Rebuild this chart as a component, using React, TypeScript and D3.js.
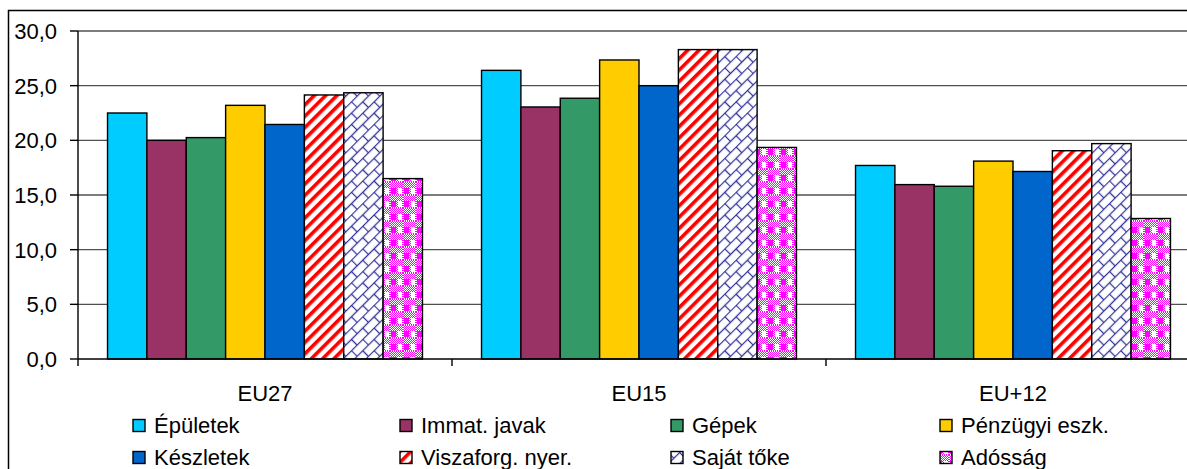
import React from 'react';
import * as d3 from 'd3';

const categories = ['EU27', 'EU15', 'EU+12'];
const seriesNames = ['Épületek', 'Immat. javak', 'Gépek', 'Pénzügyi eszk.', 'Készletek', 'Viszaforg. nyer.', 'Saját tőke', 'Adósság'];
const epuletek = [22.5, 26.4, 17.7];
const immat = [20.0, 23.05, 15.95];
const gepek = [20.25, 23.85, 15.8];
const penzugyi = [23.2, 27.35, 18.1];
const keszletek = [21.45, 25.0, 17.15];
const viszaforg = [24.15, 28.3, 19.05];
const sajat = [24.35, 28.3, 19.7];
const adossag = [16.5, 19.35, 12.85];
const yTicks = [0, 5, 10, 15, 20, 25, 30];

const seriesValues = [epuletek, immat, gepek, penzugyi, keszletek, viszaforg, sajat, adossag];
const fills = ['#00CCFF', '#993366', '#339966', '#FFCC00', '#0066CC', 'url(#pStripe)', 'url(#pBrick)', 'url(#pCheck)'];

const W = 1187;
const H = 469;
const plotLeft = 78;
const plotRight = 1200;
const plotTop = 31;
const plotBottom = 359;
const font = '"Liberation Sans", Arial, sans-serif';
const fs = 22;

const legendCols = [133, 400, 671, 940];
const legendRows = [433, 465];

export default function App() {
  const x0 = d3.scaleBand<string>().domain(categories).range([plotLeft, plotRight]).paddingInner(0).paddingOuter(0);
  const x1 = d3.scaleBand<string>().domain(seriesNames).range([0, x0.bandwidth()]).paddingInner(0).paddingOuter(0.75);
  const y = d3.scaleLinear().domain([0, 30]).range([plotBottom, plotTop]);
  const fmt = (v: number) => d3.format('.1f')(v).replace('.', ',');

  return (
    <svg width={W} height={H} style={{ position: 'absolute', left: 0, top: 0, display: 'block' }} fontFamily={font}>
      <defs>
        <pattern id="pStripe" width={8} height={8} patternUnits="userSpaceOnUse" patternTransform="rotate(45)">
          <rect width={8} height={8} fill="#fff" />
          <rect width={3.6} height={8} fill="#FF0000" />
        </pattern>
        <pattern id="pBrick" width={16} height={16} patternUnits="userSpaceOnUse" patternTransform="rotate(-45)">
          <rect width={16} height={16} fill="#fff" />
          <g stroke="#333399" strokeWidth={1.3} fill="none">
            <line x1={0} y1={0.5} x2={16} y2={0.5} />
            <line x1={0} y1={8.5} x2={16} y2={8.5} />
            <line x1={0.5} y1={0} x2={0.5} y2={8.5} />
            <line x1={8.5} y1={8.5} x2={8.5} y2={16} />
          </g>
        </pattern>
        <pattern id="pFine" width={2} height={2} patternUnits="userSpaceOnUse">
          <rect width={2} height={2} fill="#fff" />
          <rect width={1} height={1} fill="#FF00FF" />
          <rect x={1} y={1} width={1} height={1} fill="#FF00FF" />
        </pattern>
        <pattern id="pCheck" width={13} height={13} patternUnits="userSpaceOnUse">
          <rect width={13} height={13} fill="url(#pFine)" />
          <rect x={1} y={6} width={5} height={6} fill="#FF00FF" />
          <rect x={8} y={6} width={4} height={6} fill="#fff" />
        </pattern>
      </defs>
      <rect x={0} y={0} width={W} height={H} fill="#fff" />
      <rect x={8.5} y={10.5} width={1200} height={500} fill="none" stroke="#000" strokeWidth={1.5} />

      {yTicks.filter((t) => t > 0).map((t) => (
        <line key={'g' + t} x1={plotLeft} x2={plotRight} y1={y(t)} y2={y(t)} stroke="#505050" strokeWidth={1.4} />
      ))}

      {categories.map((c, ci) => (
        <g key={c}>
          {seriesNames.map((s, si) => {
            const v = seriesValues[si][ci];
            const bx = (x0(c) as number) + (x1(s) as number);
            return (
              <rect key={s} x={bx} y={y(v)} width={x1.bandwidth()} height={y(0) - y(v)} fill={fills[si]} stroke="#000" strokeWidth={1.4} />
            );
          })}
        </g>
      ))}

      <line x1={plotLeft} x2={plotLeft} y1={plotTop} y2={plotBottom} stroke="#000" strokeWidth={1.4} />
      <line x1={plotLeft} x2={plotRight} y1={plotBottom} y2={plotBottom} stroke="#000" strokeWidth={1.4} />
      {yTicks.map((t) => (
        <g key={'t' + t}>
          <line x1={plotLeft - 8} x2={plotLeft} y1={y(t)} y2={y(t)} stroke="#000" strokeWidth={1.4} />
          <text x={57} y={y(t) + 8} textAnchor="end" fontSize={fs} fill="#000">{fmt(t)}</text>
        </g>
      ))}
      {categories.map((c) => (
        <line key={'ct' + c} x1={x0(c) as number} x2={x0(c) as number} y1={plotBottom} y2={plotBottom + 7} stroke="#000" strokeWidth={1.4} />
      ))}
      {categories.map((c) => (
        <text key={'cl' + c} x={(x0(c) as number) + x0.bandwidth() / 2} y={401} textAnchor="middle" fontSize={fs} fill="#000">{c}</text>
      ))}

      {seriesNames.map((s, i) => {
        const lx = legendCols[i % 4];
        const ly = legendRows[Math.floor(i / 4)];
        return (
          <g key={'l' + s}>
            <rect x={lx} y={ly - 13.5} width={12} height={12} fill={fills[i]} stroke="#000" strokeWidth={1.4} />
            <text x={lx + 21} y={ly} fontSize={fs} fill="#000">{s}</text>
          </g>
        );
      })}
    </svg>
  );
}
